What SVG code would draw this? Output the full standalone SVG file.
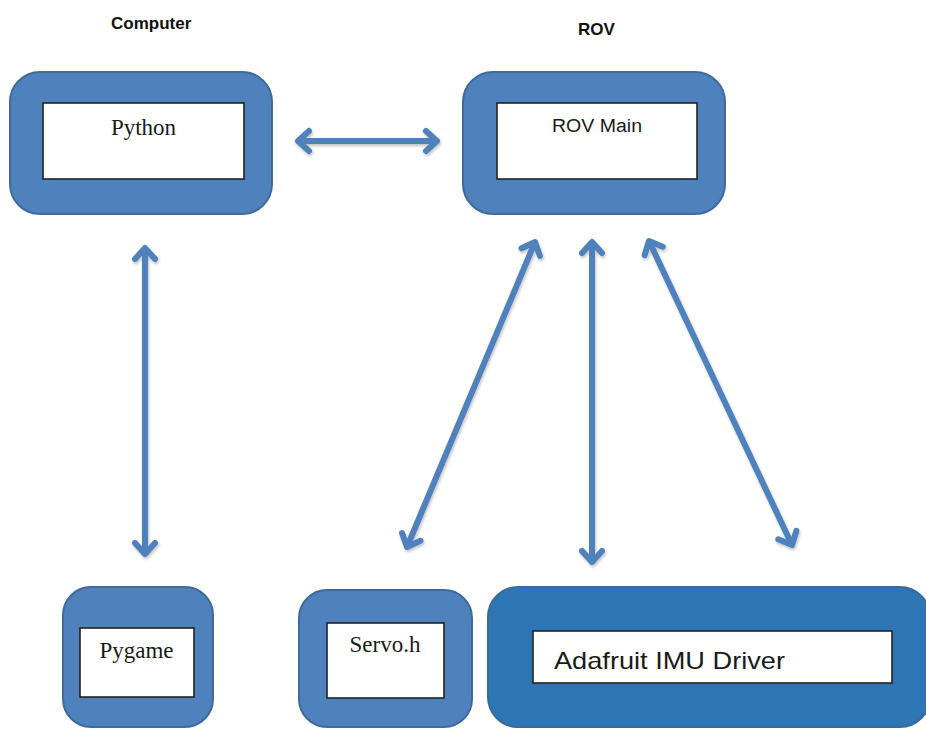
<svg xmlns="http://www.w3.org/2000/svg" width="926" height="730" viewBox="0 0 926 730">
<style>
.outer{fill:#4F81BD;stroke:#3F6A9C;stroke-width:2}
.outer2{fill:#2E75B6;stroke:#3A6A96;stroke-width:2}
.inner{fill:#FFFFFF;stroke:#222222;stroke-width:1.6}
.serif{font-family:"Liberation Serif","Times New Roman",serif;font-size:23px;fill:#1a1a1a;text-anchor:middle}
.sans{font-family:"Liberation Sans",Arial,sans-serif;fill:#1a1a1a}
.title{font-family:"Liberation Sans",Arial,sans-serif;font-weight:bold;font-size:17px;fill:#111}
.conn{stroke:#4F81BD;stroke-width:6;fill:none;marker-start:url(#head);marker-end:url(#head)}
</style>
<defs>
<marker id="head" markerUnits="userSpaceOnUse" markerWidth="40" markerHeight="40" viewBox="-20 -20 40 40" refX="0" refY="0" orient="auto-start-reverse" overflow="visible">
<path d="M-11,-10 L0,0 L-11,10" fill="none" stroke="#4F81BD" stroke-width="6" stroke-linecap="round" stroke-linejoin="round"/>
</marker>
<filter id="sh" filterUnits="userSpaceOnUse" x="0" y="0" width="926" height="730">
<feGaussianBlur in="SourceAlpha" stdDeviation="1.5"/>
<feOffset dx="1" dy="2" result="b"/>
<feComponentTransfer><feFuncA type="linear" slope="0.25"/></feComponentTransfer>
<feMerge><feMergeNode/><feMergeNode in="SourceGraphic"/></feMerge>
</filter>
</defs>

<text class="title" x="111" y="29">Computer</text>
<text class="title" x="578" y="35">ROV</text>

<g id="python">
<rect class="outer" x="10" y="72" width="262" height="142" rx="30"/>
<rect class="inner" x="43" y="103" width="201" height="76"/>
<text class="serif" x="143.5" y="135">Python</text>
</g>

<g id="rov-main">
<rect class="outer" x="463" y="72" width="262" height="142" rx="30"/>
<rect class="inner" x="497" y="103" width="200" height="76"/>
<text class="sans" x="552" y="132" font-size="18" textLength="90" lengthAdjust="spacingAndGlyphs">ROV Main</text>
</g>

<g id="pygame">
<rect class="outer" x="63" y="587" width="150" height="140" rx="28"/>
<rect class="inner" x="80" y="628" width="114" height="69"/>
<text class="serif" x="136.5" y="658">Pygame</text>
</g>

<g id="servo">
<rect class="outer" x="299" y="590" width="173" height="137" rx="28"/>
<rect class="inner" x="327" y="623" width="117" height="75"/>
<text class="serif" x="385" y="652">Servo.h</text>
</g>

<g id="adafruit">
<rect class="outer2" x="488" y="587" width="442" height="140" rx="30"/>
<rect class="inner" x="533" y="631" width="359" height="52"/>
<text class="sans" x="554" y="669" font-size="24" textLength="231" lengthAdjust="spacingAndGlyphs">Adafruit IMU Driver</text>
</g>

<g id="connectors" filter="url(#sh)">
<line class="conn" x1="298" y1="141" x2="437" y2="141"/>
<line class="conn" x1="145" y1="248" x2="145" y2="554"/>
<line class="conn" x1="535" y1="242" x2="407" y2="547"/>
<line class="conn" x1="592" y1="242" x2="592" y2="562"/>
<line class="conn" x1="649" y1="241" x2="792" y2="545"/>
</g>
</svg>
